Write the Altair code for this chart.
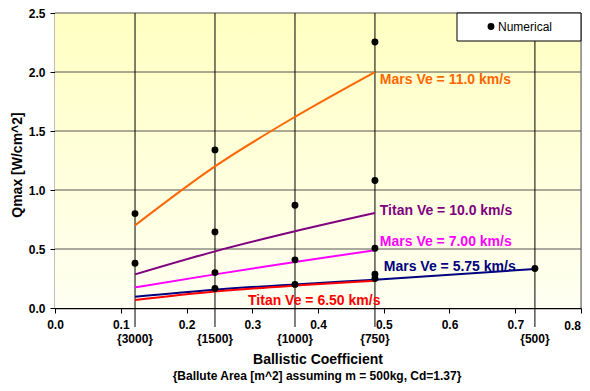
import altair as alt
import pandas as pd

FONT = "Liberation Sans"

# Ballistic coefficient positions (m / (Cd*A)) and ballute areas
bc_values = [0.1217, 0.2433, 0.3650, 0.4866, 0.7299]
bc_labels = ["{3000}", "{1500}", "{1000}", "{750}", "{500}"]

# Numerical results
num_bc = [0.1217, 0.1217, 0.2433, 0.2433, 0.2433, 0.2433, 0.3650, 0.3650, 0.3650,
          0.4866, 0.4866, 0.4866, 0.4866, 0.4866, 0.7299]
num_q = [0.80, 0.38, 1.34, 0.645, 0.30, 0.166, 0.87, 0.408, 0.20,
         2.255, 1.08, 0.507, 0.287, 0.25, 0.335]

# Analytical curves
series_names = ["Mars Ve = 11.0 km/s", "Titan Ve = 10.0 km/s", "Mars Ve = 7.00 km/s",
                "Mars Ve = 5.75 km/s", "Titan Ve = 6.50 km/s"]
series_colors = ["#FF6600", "#800080", "#FF00FF", "#000080", "#FF0000"]
series_q = [
    [0.70, 1.20, 1.62, 2.00],
    [0.285, 0.48, 0.65, 0.805],
    [0.175, 0.285, 0.39, 0.49],
    [0.095, 0.155, 0.20, 0.24, 0.33],
    [0.068, 0.14, 0.19, 0.23],
]
label_bc = [0.494, 0.494, 0.494, 0.500, 0.495]
label_q = [1.934, 0.819, 0.56, 0.346, 0.059]
label_align = ["left", "left", "left", "left", "right"]

x_ticks = [0.0, 0.1, 0.2, 0.3, 0.4, 0.5, 0.6, 0.7, 0.8]
y_ticks = [0.0, 0.5, 1.0, 1.5, 2.0, 2.5]

W, H = 526, 295

x_enc = alt.X("bc:Q", scale=alt.Scale(domain=[0, 0.8], nice=False, zero=False),
              axis=alt.Axis(values=x_ticks, format=".1f", title=None, grid=False,
                            labelExpr="datum.value >= 0.79 ? '' : datum.label",
                            labelFont=FONT, labelFontSize=12, labelFontWeight="bold",
                            labelColor="black", tickSize=5, tickColor="black",
                            domainColor="black", domainWidth=1.5, labelPadding=6,
                            labelFlush=False))
y_enc = alt.Y("q:Q", scale=alt.Scale(domain=[0, 2.5], nice=False, zero=False),
              axis=alt.Axis(values=y_ticks, format=".1f", title=None, grid=False,
                            labelFont=FONT, labelFontSize=12, labelFontWeight="bold",
                            labelColor="black", tickSize=5, tickColor="black",
                            domainColor="black", domainWidth=1.5, labelPadding=5,
                            labelFlush=False))

dummy = pd.DataFrame({"a": [0]})

bg = alt.Chart(dummy).mark_rect(
    color=alt.Gradient(gradient="linear", x1=0, y1=0, x2=0, y2=1,
                       stops=[alt.GradientStop(color="#FFFFC2", offset=0),
                              alt.GradientStop(color="#FFFFF2", offset=1)])
).encode(x=alt.value(0), x2=alt.value(W), y=alt.value(0), y2=alt.value(H))

grid_df = pd.DataFrame({"q": y_ticks[1:]})
hgrid = alt.Chart(grid_df).mark_rule(color="#555555", strokeWidth=1).encode(
    y=y_enc, x=alt.value(0), x2=alt.value(W))

right_df = pd.DataFrame({"bc": [x_ticks[-1]], "lab": ["%.1f" % x_ticks[-1]]})
right_border = alt.Chart(right_df).mark_rule(color="#555555", strokeWidth=1).encode(
    x=x_enc, y=alt.value(0), y2=alt.value(H))
last_label = alt.Chart(right_df).mark_text(font=FONT, fontSize=12, fontWeight="bold",
                                           align="right", baseline="middle", color="black").encode(
    x=x_enc, y=alt.value(H + 18), text="lab:N")

bc_df = pd.DataFrame({"bc": bc_values, "lab": bc_labels})
vrules = alt.Chart(bc_df).mark_rule(color="black", strokeWidth=1).encode(
    x=x_enc, y=alt.value(0), y2=alt.value(H + 19))
bc_text = alt.Chart(bc_df).mark_text(font=FONT, fontSize=12, fontWeight="bold",
                                     baseline="middle", color="black").encode(
    x=x_enc, y=alt.value(H + 31), text="lab:N")

lines = []
for name, col, qs in zip(series_names, series_colors, series_q):
    df = pd.DataFrame({"bc": bc_values[:len(qs)], "q": qs})
    lines.append(alt.Chart(df).mark_line(color=col, strokeWidth=2,
                                         interpolate="monotone").encode(x=x_enc, y=y_enc))

pts_df = pd.DataFrame({"bc": num_bc, "q": num_q})
points = alt.Chart(pts_df).mark_point(filled=True, color="black", size=48, opacity=1).encode(
    x=x_enc, y=y_enc)

label_layers = []
for name, col, lb, lq, al in zip(series_names, series_colors, label_bc, label_q, label_align):
    df = pd.DataFrame({"bc": [lb], "q": [lq], "t": [name]})
    label_layers.append(alt.Chart(df).mark_text(font=FONT, fontSize=14, fontWeight="bold",
                                                color=col, align=al, baseline="middle").encode(
        x=x_enc, y=y_enc, text="t:N"))

legend_box = alt.Chart(dummy).mark_rect(fill="white", stroke="black", strokeWidth=1).encode(
    x=alt.value(402), x2=alt.value(W), y=alt.value(0), y2=alt.value(28))
legend_pt = alt.Chart(dummy).mark_point(filled=True, color="black", size=48, opacity=1).encode(
    x=alt.value(436), y=alt.value(13.5))
legend_txt = alt.Chart(pd.DataFrame({"t": ["Numerical"]})).mark_text(
    font=FONT, fontSize=12, align="left", baseline="middle", color="black").encode(
    x=alt.value(443), y=alt.value(13.5), text="t:N")

xtitle = alt.Chart(pd.DataFrame({"t": ["Ballistic Coefficient"]})).mark_text(
    font=FONT, fontSize=14, fontWeight="bold", baseline="middle", color="black").encode(
    x=alt.value(W / 2), y=alt.value(347), text="t:N")
sub = alt.Chart(pd.DataFrame({"t": ["{Ballute Area [m^2] assuming m = 500kg, Cd=1.37}"]})).mark_text(
    font=FONT, fontSize=12, fontWeight="bold", baseline="middle", color="black").encode(
    x=alt.value(W / 2 - 1), y=alt.value(362.5), text="t:N")
ytitle = alt.Chart(pd.DataFrame({"t": ["Qmax [W/cm^2]"]})).mark_text(
    font=FONT, fontSize=14, fontWeight="bold", baseline="middle", angle=270, color="black").encode(
    x=alt.value(-37), y=alt.value(152), text="t:N")

chart = alt.layer(
    bg, hgrid, right_border, vrules, *lines, points, *label_layers, bc_text, last_label,
    legend_box, legend_pt, legend_txt, xtitle, sub, ytitle
).properties(
    width=W, height=H,
    autosize=alt.AutoSizeParams(type="none"),
    padding={"left": 47, "top": 5, "right": 1, "bottom": 75},
).configure_view(stroke=None).configure(background="white")

chart.save("out.html", embed_options={"renderer": "svg", "actions": False})
